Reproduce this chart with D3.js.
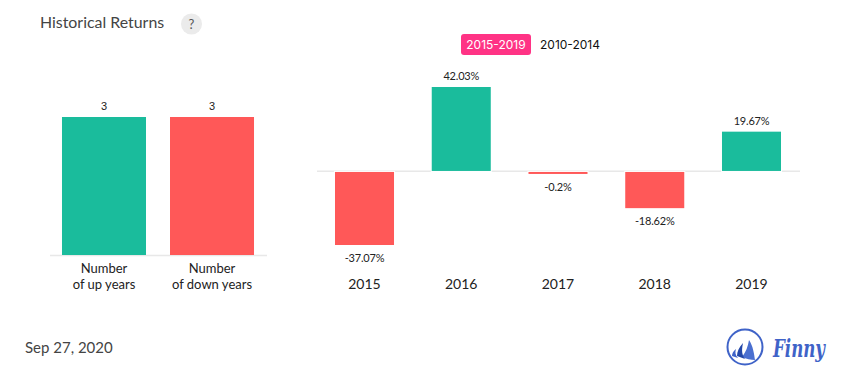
<!DOCTYPE html>
<html>
<head>
<meta charset="utf-8">
<script src="https://cdn.jsdelivr.net/npm/d3@7"></script>
<style>
  html, body { margin: 0; padding: 0; background: #fff; }
  svg { display: block; }
  text { font-family: Lato, sans-serif; }
</style>
</head>
<body>
<div id="chart"></div>
<script>
// data
var countLabels = [["Number", "of up years"], ["Number", "of down years"]];
var countValues = [3, 3];
var years = ["2015", "2016", "2017", "2018", "2019"];
var returns = [-37.07, 42.03, -0.2, -18.62, 19.67];
var periods = ["2015-2019", "2010-2014"];

var upColor = "#1abc9c", downColor = "#ff5858", axisColor = "#e8e8e8", labelColor = "#222";

var svg = d3.select("#chart").append("svg")
  .attr("width", 855)
  .attr("height", 382);

// title and help badge
svg.append("text")
  .attr("x", 40).attr("y", 28)
  .attr("font-size", 15.9)
  .attr("fill", "#444")
  .text("Historical Returns");
svg.append("circle")
  .attr("cx", 191.5).attr("cy", 24).attr("r", 10.5)
  .attr("fill", "#ebebeb");
svg.append("text")
  .attr("x", 191.5).attr("y", 28.5)
  .attr("text-anchor", "middle")
  .attr("font-size", 13)
  .attr("fill", "#555")
  .text("?");

// period switch
svg.append("rect")
  .attr("x", 461).attr("y", 34)
  .attr("width", 70).attr("height", 21)
  .attr("rx", 3)
  .attr("fill", "#ff3385");
svg.selectAll(".period")
  .data(periods)
  .enter().append("text")
  .attr("class", "period")
  .attr("x", function(d, i) { return i == 0 ? 496 : 570; })
  .attr("y", 49)
  .attr("text-anchor", "middle")
  .attr("font-size", 12)
  .style("font-family", "Inter, sans-serif")
  .attr("fill", function(d, i) { return i == 0 ? "#fff" : "#111"; })
  .text(function(d) { return d; });

/* left chart: number of up and down years */
var countX = d3.scaleBand()
  .domain(d3.range(countValues.length))
  .range([50, 266])
  .paddingInner(0.2222)
  .paddingOuter(0.111);

var countY = d3.scaleLinear()
  .domain([0, 3])
  .range([255, 117]);

svg.append("line")
  .attr("x1", 50).attr("x2", 267)
  .attr("y1", 255.5).attr("y2", 255.5)
  .attr("stroke", axisColor)
  .attr("stroke-width", 1.5);

svg.selectAll(".count-bar")
  .data(countValues)
  .enter().append("rect")
  .attr("class", "count-bar")
  .attr("x", function(d, i) { return countX(i); })
  .attr("y", function(d) { return countY(d); })
  .attr("width", countX.bandwidth())
  .attr("height", function(d) { return countY(0) - countY(d); })
  .attr("fill", function(d, i) { return i == 0 ? upColor : downColor; });

svg.selectAll(".count-value")
  .data(countValues)
  .enter().append("text")
  .attr("class", "count-value")
  .attr("x", function(d, i) { return countX(i) + countX.bandwidth() / 2; })
  .attr("y", function(d) { return countY(d) - 7; })
  .attr("text-anchor", "middle")
  .attr("font-size", 11)
  .style("font-family", "'Liberation Sans', sans-serif")
  .attr("fill", labelColor)
  .text(function(d) { return d; });

countLabels.forEach(function(lines, i) {
  lines.forEach(function(line, j) {
    svg.append("text")
      .attr("x", countX(i) + countX.bandwidth() / 2)
      .attr("y", 273 + j * 16)
      .attr("text-anchor", "middle")
      .attr("font-size", 13)
      .attr("fill", labelColor)
      .text(line);
  });
});

/* right chart: yearly returns */
var yearX = d3.scaleBand()
  .domain(years)
  .range([317, 799])
  .paddingInner(0.39)
  .paddingOuter(0.186);

var returnY = d3.scaleLinear()
  .domain([-37.07, 42.03])
  .range([245, 87]);

// top and bottom edge of a bar, negative bars start just under the axis
// and even the smallest one stays 2px tall
function barTop(d) { return d > 0 ? returnY(d) : returnY(0) + 1; }
function barBottom(d) { return d > 0 ? returnY(0) : Math.max(returnY(d), barTop(d) + 2); }

svg.append("line")
  .attr("x1", 317).attr("x2", 800)
  .attr("y1", returnY(0) + 0.3).attr("y2", returnY(0) + 0.3)
  .attr("stroke", axisColor)
  .attr("stroke-width", 1.5);

// white gap in the axis on both sides of each bar
svg.selectAll(".return-gap")
  .data(returns)
  .enter().append("rect")
  .attr("class", "return-gap")
  .attr("x", function(d, i) { return yearX(years[i]) - 1; })
  .attr("y", function(d) { return barTop(d) - 1; })
  .attr("width", yearX.bandwidth() + 2)
  .attr("height", function(d) { return barBottom(d) - barTop(d) + 2; })
  .attr("fill", "#fff");

svg.selectAll(".return-bar")
  .data(returns)
  .enter().append("rect")
  .attr("class", "return-bar")
  .attr("x", function(d, i) { return yearX(years[i]); })
  .attr("y", barTop)
  .attr("width", yearX.bandwidth())
  .attr("height", function(d) { return barBottom(d) - barTop(d); })
  .attr("fill", function(d) { return d > 0 ? upColor : downColor; });

svg.selectAll(".return-value")
  .data(returns)
  .enter().append("text")
  .attr("class", "return-value")
  .attr("x", function(d, i) { return yearX(years[i]) + yearX.bandwidth() / 2; })
  .attr("y", function(d) { return d > 0 ? barTop(d) - 7 : barBottom(d) + 17; })
  .attr("text-anchor", "middle")
  .attr("font-size", 11)
  .attr("letter-spacing", "-0.2")
  .attr("fill", labelColor)
  .text(function(d) { return d + "%"; });

svg.selectAll(".year-label")
  .data(years)
  .enter().append("text")
  .attr("class", "year-label")
  .attr("x", function(d) { return yearX(d) + yearX.bandwidth() / 2; })
  .attr("y", 289)
  .attr("text-anchor", "middle")
  .attr("font-size", 14)
  .attr("fill", labelColor)
  .text(function(d) { return d; });

// date
svg.append("text")
  .attr("x", 25).attr("y", 353)
  .attr("font-size", 15)
  .attr("fill", "#444")
  .text("Sep 27, 2020");

// logo
var logo = svg.append("g");
logo.append("circle")
  .attr("cx", 745).attr("cy", 347).attr("r", 17.5)
  .attr("fill", "none")
  .attr("stroke", "#3f63c8")
  .attr("stroke-width", 2);
logo.append("path")
  .attr("d", "M749 340 C753 346 754 353 755 360 C751 360 746 359 742 357 C746 352 748 346 749 340Z")
  .attr("fill", "#4a6fd0");
logo.append("path")
  .attr("d", "M743 343 C739 347 737 352 737 356 L745 359 C741 354 742 348 743 343Z")
  .attr("fill", "#2347a8");
logo.append("path")
  .attr("d", "M736 349 C733 351 732 354 732 356 L738 358 C735 355 735 352 736 349Z")
  .attr("fill", "#3f63c8");
logo.append("text")
  .attr("x", 773).attr("y", 357)
  .attr("font-size", 24)
  .attr("font-style", "italic")
  .attr("font-weight", "bold")
  .style("font-family", "'DejaVu Serif', serif")
  .attr("textLength", 52)
  .attr("lengthAdjust", "spacingAndGlyphs")
  .attr("fill", "#3f63c8")
  .text("Finny");
</script>
</body>
</html>
